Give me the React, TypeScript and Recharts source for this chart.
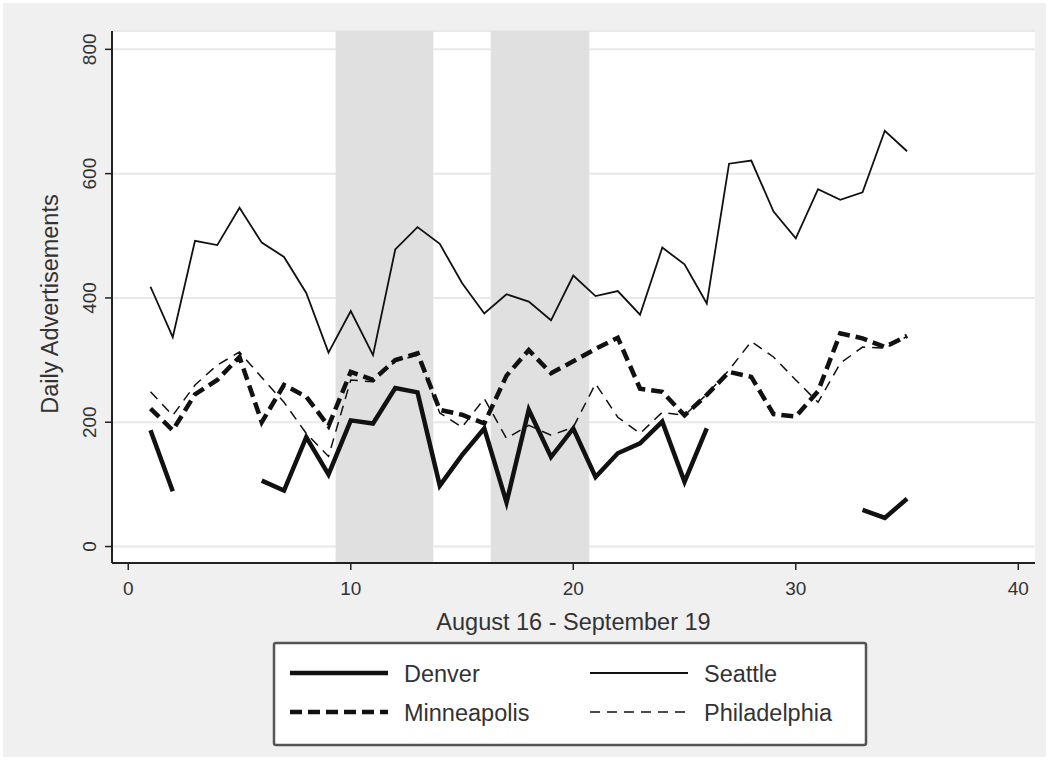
import React from 'react';
import { LineChart, Line, XAxis, YAxis, CartesianGrid, ReferenceArea } from 'recharts';

const days = [1, 2, 3, 4, 5, 6, 7, 8, 9, 10, 11, 12, 13, 14, 15, 16, 17, 18, 19, 20, 21, 22, 23, 24, 25, 26, 27, 28, 29, 30, 31, 32, 33, 34, 35];
const denver = [187, 89, null, null, null, 106, 90, 176, 116, 203, 198, 255, 248, 98, 147, 190, 71, 220, 144, 190, 112, 150, 166, 201, 104, 190, null, null, null, null, null, null, 59, 46, 77];
const seattle = [418, 337, 492, 485, 545, 489, 466, 408, 312, 379, 308, 478, 514, 487, 424, 375, 406, 394, 364, 436, 403, 411, 373, 481, 454, 391, 616, 621, 539, 496, 575, 558, 570, 669, 636];
const minneapolis = [222, 187, 245, 268, 305, 200, 260, 241, 194, 281, 268, 300, 311, 220, 212, 198, 275, 316, 279, 298, 318, 336, 254, 249, 211, 244, 281, 273, 213, 209, 250, 343, 335, 321, 339];
const philadelphia = [249, 211, 260, 292, 313, 272, 232, 182, 145, 268, 265, 298, 308, 215, 192, 238, 174, 195, 179, 192, 262, 208, 182, 216, 211, 245, 284, 330, 305, 268, 232, 295, 321, 319, 338];

const xTicks = [0, 10, 20, 30, 40];
const yTicks = [0, 200, 400, 600, 800];
const shadedSpans = [
  [9.32, 13.71],
  [16.29, 20.72],
];
const xLabel = 'August 16 - September 19';
const yLabel = 'Daily Advertisements';

const data = days.map((d, i) => ({
  day: d,
  Denver: denver[i],
  Seattle: seattle[i],
  Minneapolis: minneapolis[i],
  Philadelphia: philadelphia[i],
}));

const FONT = '"Liberation Sans", Arial, Helvetica, sans-serif';
const INK = '#111';
const TXT = '#333';
const TICK_FS = 19;
const TITLE_FS = 23.5;

const styles = {
  Denver: { width: 4.5, dash: undefined as string | undefined },
  Seattle: { width: 1.8, dash: undefined as string | undefined },
  Minneapolis: { width: 4.5, dash: '12 6' },
  Philadelphia: { width: 1.5, dash: '10 7' },
};

const XTick = (props: any) => {
  const { x, y, payload } = props;
  return (
    <text x={x} y={y + 23} textAnchor="middle" fontFamily={FONT} fontSize={TICK_FS} fill={TXT}>
      {payload.value}
    </text>
  );
};

const YTick = (props: any) => {
  const { x, y, payload } = props;
  return (
    <text
      transform={`translate(${x - 7},${y}) rotate(-90)`}
      textAnchor="middle"
      fontFamily={FONT}
      fontSize={TICK_FS}
      fill={TXT}
    >
      {payload.value}
    </text>
  );
};

const XLabel = (props: any) => {
  const vb = props.viewBox || { x: 112, y: 563, width: 923 };
  const cx = vb.x + vb.width / 2;
  return (
    <text x={cx} y={vb.y + 67} textAnchor="middle" fontFamily={FONT} fontSize={TITLE_FS} fill={TXT}>
      {xLabel}
    </text>
  );
};

const YLabel = (props: any) => {
  const vb = props.viewBox || { x: 0, y: 31, width: 112, height: 532 };
  const cy = vb.y + vb.height / 2 + 7;
  return (
    <text
      transform={`translate(58,${cy}) rotate(-90)`}
      textAnchor="middle"
      fontFamily={FONT}
      fontSize={TITLE_FS}
      fill={TXT}
    >
      {yLabel}
    </text>
  );
};

const legendItems = [
  { name: 'Denver', col: 0, row: 0 },
  { name: 'Seattle', col: 1, row: 0 },
  { name: 'Minneapolis', col: 0, row: 1 },
  { name: 'Philadelphia', col: 1, row: 1 },
];

const LegendBox = () => {
  const W = 592;
  const H = 102;
  return (
    <svg width={W + 4} height={H + 4} style={{ position: 'absolute', left: 272, top: 641 }}>
      <rect x={2} y={2} width={W} height={H} fill="#fff" stroke="#555" strokeWidth={2.5} rx={2} />
      {legendItems.map((it) => {
        const st = (styles as any)[it.name];
        const lx = 18 + it.col * 300;
        const ly = 32 + it.row * 39;
        return (
          <g key={it.name}>
            <line
              x1={lx}
              x2={lx + 98}
              y1={ly}
              y2={ly}
              stroke={INK}
              strokeWidth={st.width}
              strokeDasharray={st.dash}
            />
            <text x={lx + 114} y={ly + 8.5} fontFamily={FONT} fontSize={TITLE_FS} fill={TXT}>
              {it.name}
            </text>
          </g>
        );
      })}
    </svg>
  );
};

export default function App() {
  return (
    <div style={{ position: 'absolute', left: 0, top: 0, width: 1049, height: 765, background: '#fff' }}>
      <div style={{ position: 'absolute', left: 3, top: 3, width: 1043, height: 754, background: '#f0f0f0' }} />
      <div style={{ position: 'absolute', left: 0, top: 0 }}>
        <LineChart width={1049} height={765} data={data} margin={{ top: 31, right: 14, left: 0, bottom: 0 }}>
          <CartesianGrid vertical={false} stroke="#e8e8e8" strokeWidth={2} fill="#ffffff" />
          {shadedSpans.map((s, i) => (
            <ReferenceArea
              key={i}
              x1={s[0]}
              x2={s[1]}
              fill="#e0e0e0"
              fillOpacity={1}
              stroke="none"
              ifOverflow="visible"
            />
          ))}
          <XAxis
            type="number"
            dataKey="day"
            domain={[-0.73, 40.75]}
            ticks={xTicks}
            allowDataOverflow
            height={202}
            tickSize={7}
            tick={<XTick />}
            axisLine={{ stroke: '#222', strokeWidth: 2 }}
            tickLine={{ stroke: '#222', strokeWidth: 1.5 }}
            label={<XLabel />}
          />
          <YAxis
            type="number"
            domain={[-26.5, 829.5]}
            ticks={yTicks}
            allowDataOverflow
            width={112}
            tickSize={7}
            tick={<YTick />}
            axisLine={{ stroke: '#222', strokeWidth: 2 }}
            tickLine={{ stroke: '#222', strokeWidth: 1.5 }}
            label={<YLabel />}
          />
          {(['Seattle', 'Philadelphia', 'Minneapolis', 'Denver'] as const).map((k) => (
            <Line
              key={k}
              type="linear"
              dataKey={k}
              stroke={INK}
              strokeWidth={styles[k].width}
              strokeDasharray={styles[k].dash}
              dot={false}
              activeDot={false}
              isAnimationActive={false}
              strokeLinejoin="miter"
            />
          ))}
        </LineChart>
      </div>
      <LegendBox />
    </div>
  );
}
